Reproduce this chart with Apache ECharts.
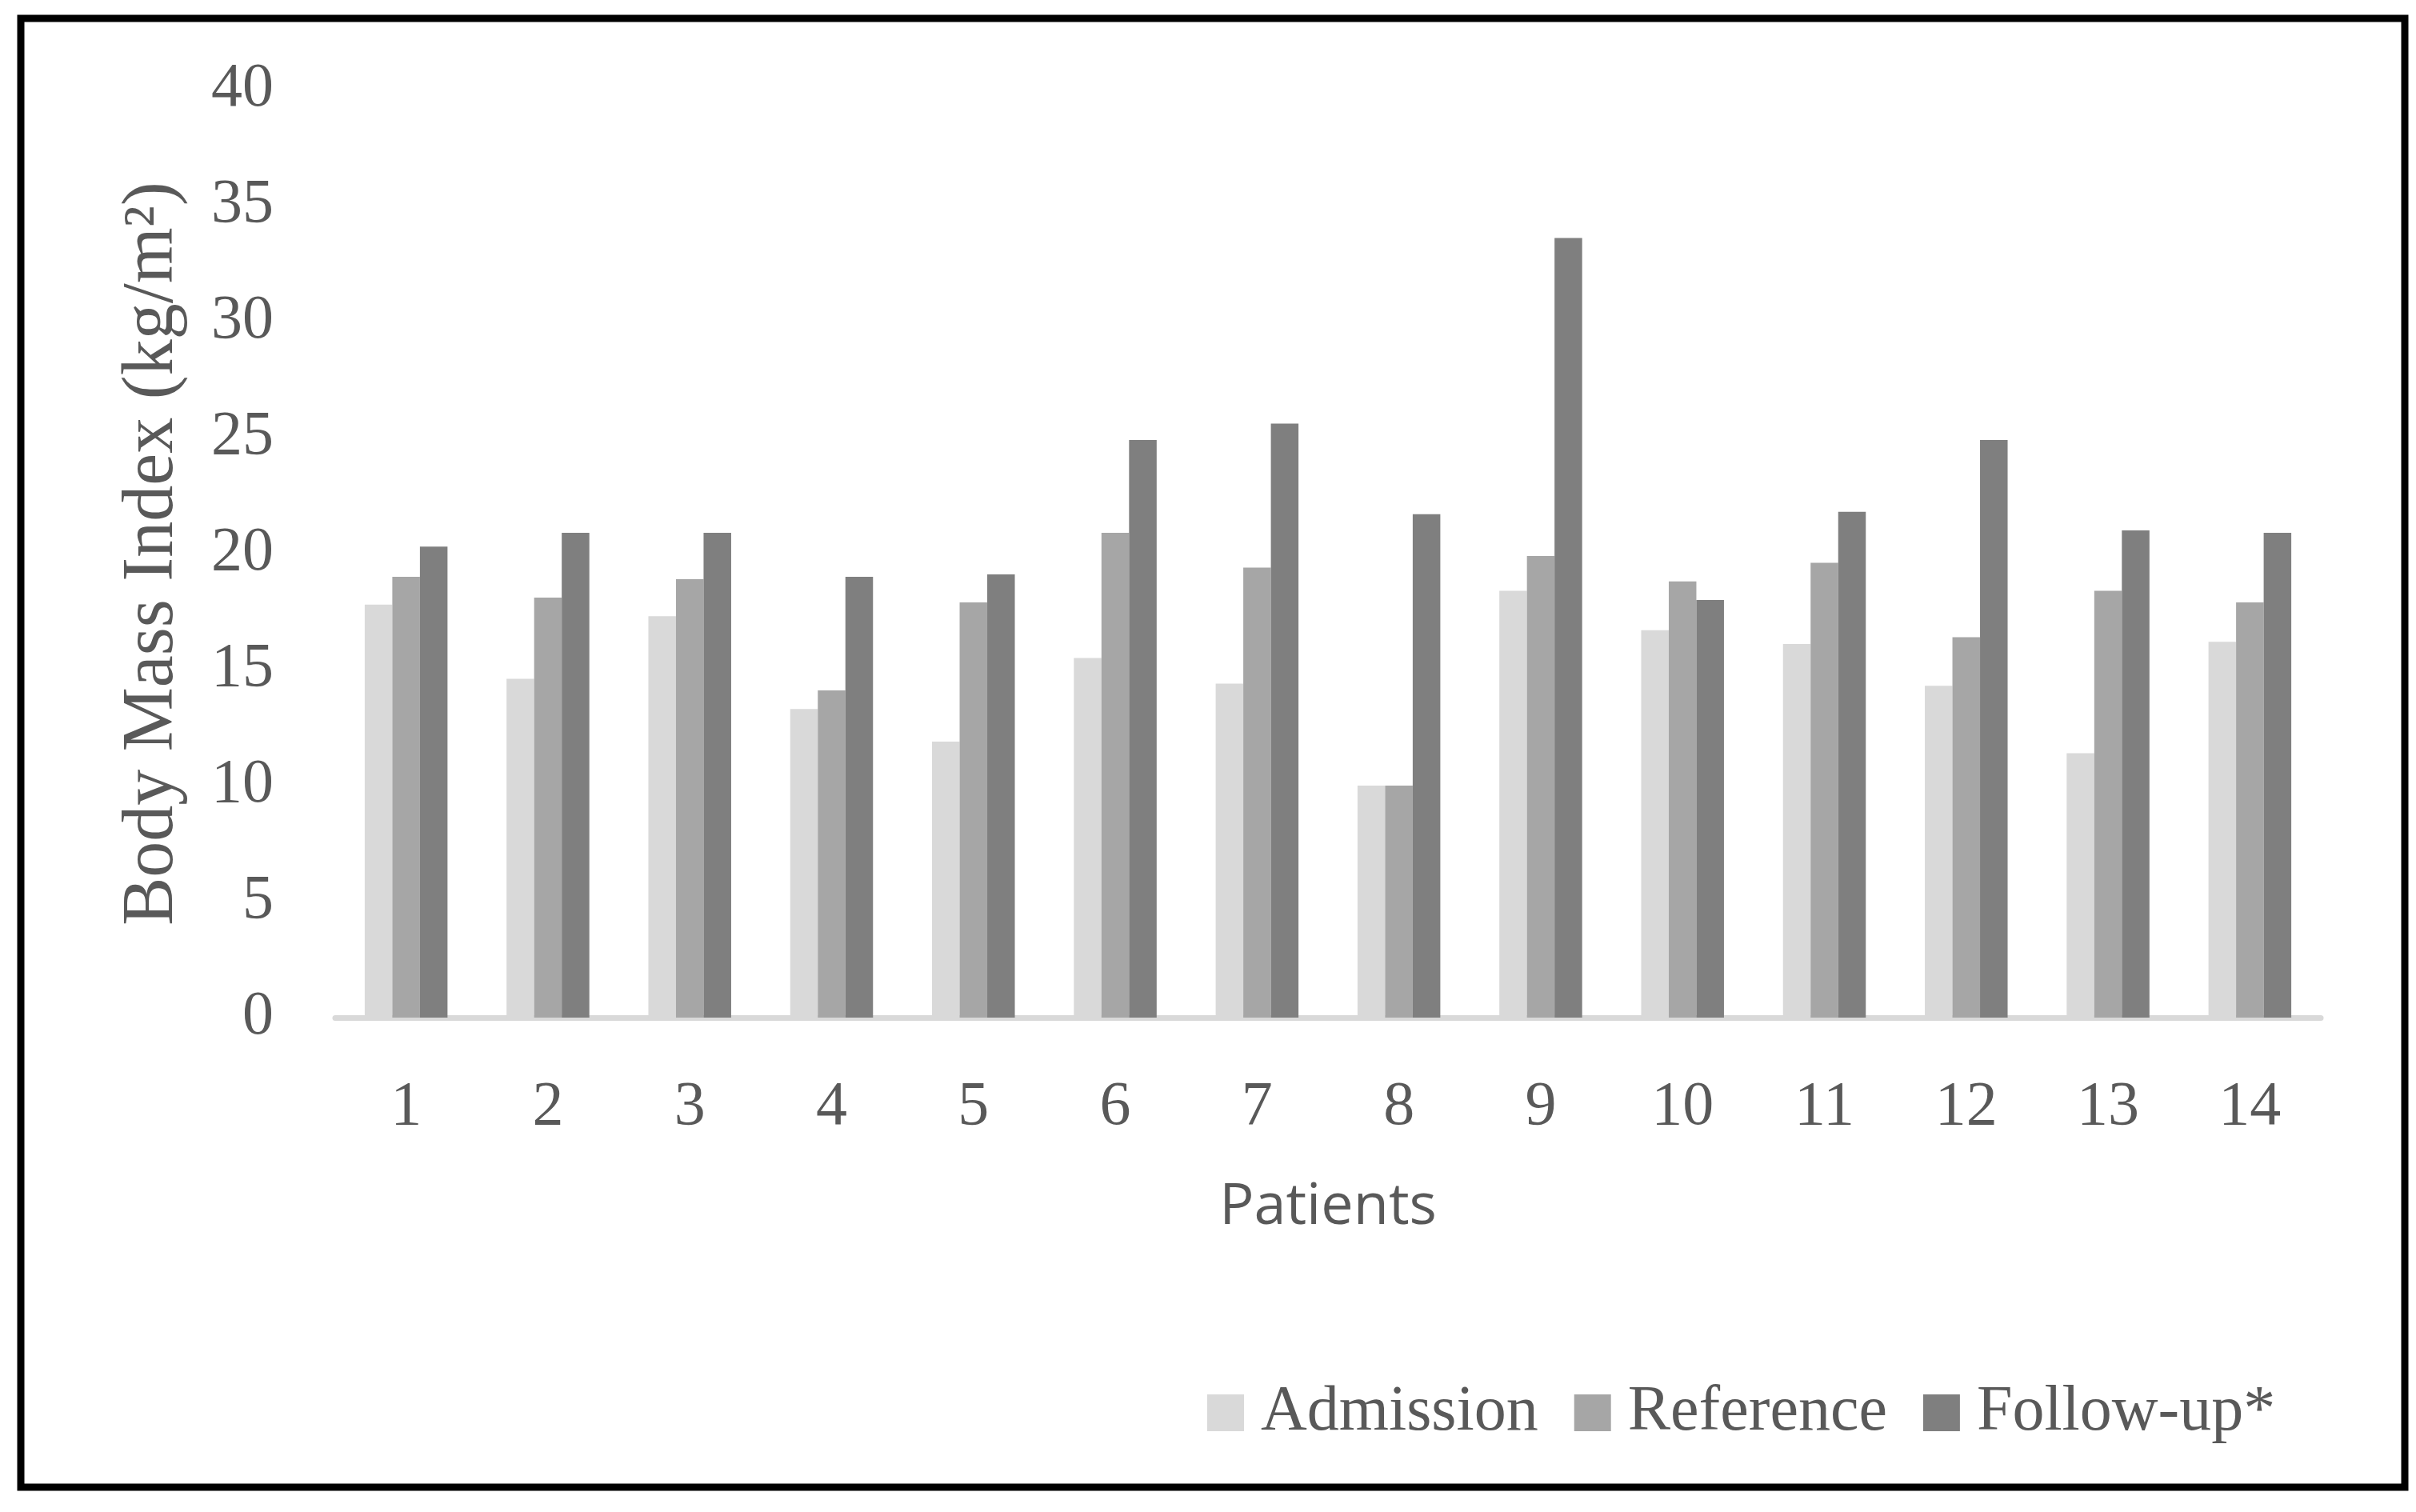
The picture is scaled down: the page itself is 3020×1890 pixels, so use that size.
<!DOCTYPE html>
<html>
<head>
<meta charset="utf-8">
<script src="https://cdn.jsdelivr.net/npm/echarts@6/dist/echarts.min.js"></script>
<style>
html,body{margin:0;padding:0;background:#fff;}
#chart{width:3020px;height:1890px;}
</style>
</head>
<body>
<div id="chart"></div>
<script>
var patients = ['1','2','3','4','5','6','7','8','9','10','11','12','13','14'];
var seriesNames = ['Admission','Reference','Follow-up*'];
var admission = [17.8, 14.6, 17.3, 13.3, 11.9, 15.5, 14.4, 10.0, 18.4, 16.7, 16.1, 14.3, 11.4, 16.2];
var reference = [19.0, 18.1, 18.9, 14.1, 17.9, 20.9, 19.4, 10.0, 19.9, 18.8, 19.6, 16.4, 18.4, 17.9];
var followUp  = [20.3, 20.9, 20.9, 19.0, 19.1, 24.9, 25.6, 21.7, 33.6, 18.0, 21.8, 24.9, 21.0, 20.9];
var yTicks = {min: 0, max: 40, interval: 5};
var colors = ['#d9d9d9', '#a6a6a6', '#7f7f7f'];

var chart = echarts.init(document.getElementById('chart'), null, {renderer: 'canvas'});
var serif = '"Liberation Serif", "DejaVu Serif", serif';
var textColor = '#595959';

function bar(name, data, color) {
  return {
    name: name,
    type: 'bar',
    data: data,
    barWidth: 34.5,
    barGap: '0%',
    itemStyle: {color: color},
    emphasis: {disabled: true}
  };
}

chart.setOption({
  backgroundColor: '#ffffff',
  animation: false,
  graphic: [{
    type: 'rect',
    shape: {x: 26, y: 23, width: 2980, height: 1836},
    style: {fill: null, stroke: '#000000', lineWidth: 9},
    z: 10
  }],
  grid: {left: 419, right: 119, top: 112, bottom: 618, containLabel: false},
  legend: {
    data: seriesNames,
    left: 1504,
    top: 1721,
    itemWidth: 46,
    itemHeight: 46,
    itemGap: 45,
    icon: 'rect',
    textStyle: {fontFamily: serif, fontSize: 80, color: textColor, padding: [0, 0, 0, 16]}
  },
  xAxis: {
    type: 'category',
    data: patients,
    name: 'Patients',
    nameLocation: 'middle',
    nameGap: 201,
    nameTextStyle: {fontFamily: '"Open Sans", sans-serif', fontSize: 72, color: textColor},
    axisLine: {show: true, lineStyle: {color: '#d9d9d9', width: 7}},
    axisTick: {show: false},
    axisLabel: {fontFamily: serif, fontSize: 78, color: textColor, margin: 74, interval: 0}
  },
  yAxis: {
    type: 'value',
    min: yTicks.min,
    max: yTicks.max,
    interval: yTicks.interval,
    name: 'Body Mass Index (kg/m\u00B2)',
    nameLocation: 'middle',
    nameGap: 183,
    nameTextStyle: {fontFamily: serif, fontSize: 90, color: textColor},
    axisLine: {show: false},
    axisTick: {show: false},
    splitLine: {show: false},
    axisLabel: {fontFamily: serif, fontSize: 78, color: textColor, margin: 77}
  },
  series: [
    bar(seriesNames[0], admission, colors[0]),
    bar(seriesNames[1], reference, colors[1]),
    bar(seriesNames[2], followUp, colors[2])
  ]
});
</script>
</body>
</html>
